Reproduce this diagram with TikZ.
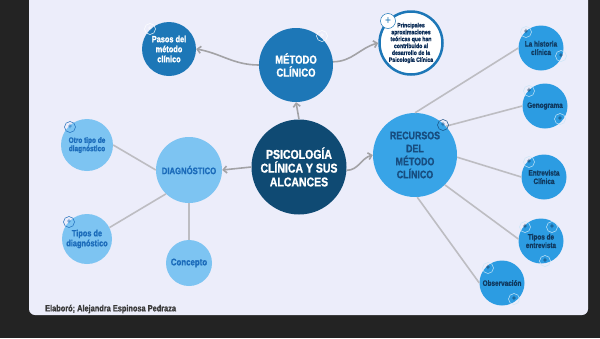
\documentclass[tikz,border=0pt]{standalone}
\usepackage{fontspec}
\setmainfont[FakeStretch=0.85]{Liberation Sans}
\newfontfamily\mapfont[FakeStretch=0.82, FakeBold=1.2]{Liberation Sans Bold}
\usetikzlibrary{arrows.meta}

\definecolor{darkbg}{HTML}{232323}
\definecolor{canvas}{HTML}{ECEDFA}
\definecolor{navy}{HTML}{0F4A73}
\definecolor{metblue}{HTML}{1D77B7}
\definecolor{inkdark}{HTML}{0C2D57}
\definecolor{recblue}{HTML}{38A4E7}
\definecolor{recink}{HTML}{174D80}
\definecolor{diagblue}{HTML}{7DC4F2}
\definecolor{diagink}{HTML}{1B6BBA}
\definecolor{leafblue}{HTML}{2C9CE2}
\definecolor{leafink}{HTML}{103A60}
\definecolor{arrowgray}{HTML}{A3A3A6}
\definecolor{linkgray}{HTML}{BDBDC2}
\definecolor{footink}{HTML}{3A3A3A}

\begin{document}
\begin{tikzpicture}[
    x=1pt, y=-1pt,
    every node/.style={align=center, inner sep=0pt},
    topic/.style={circle, fill=navy, text=white, minimum size=95pt, font=\mapfont\fontsize{12.8}{13.8}\selectfont},
    method/.style={circle, fill=metblue, text=white, font=\mapfont\fontsize{11.6}{13}\selectfont},
    ring/.style={circle, fill=white, draw=metblue, line width=2.5pt, text=inkdark, minimum size=63pt, font=\mapfont\fontsize{6.3}{6.9}\selectfont},
    resource/.style={circle, fill=recblue, text=recink, minimum size=84pt, font=\mapfont\fontsize{10.8}{13}\selectfont},
    diag/.style={circle, fill=diagblue, text=diagink},
    leaf/.style={circle, fill=leafblue, text=leafink, minimum size=45pt, font=\mapfont\fontsize{7.8}{8.4}\selectfont},
    arrow/.style={-{Straight Barb[length=3.5pt, width=7pt]}, line width=1.6pt, draw=arrowgray},
    link/.style={line width=1.6pt, draw=linkgray},
    plusmark/.style={circle, draw=#1, text=#1, line width=0.5pt, minimum size=11pt, font=\fontsize{9}{9}\selectfont}
]

% backdrop
\useasboundingbox (0,0) rectangle (600,338);
\fill[darkbg] (0,0) rectangle (600,338);
\fill[canvas, rounded corners=6pt] (29,-6) rectangle (588,315);

% centre and first level
\node[topic] (main) at (299,167) {PSICOLOGÍA\\CLÍNICA Y SUS\\ALCANCES};
\node[method, minimum size=74pt] (met) at (296,65) {MÉTODO\\CLÍNICO};
\node[method, minimum size=54pt, font=\mapfont\fontsize{9}{10}\selectfont] (pasos) at (169,49) {Pasos del\\método\\clínico};
\node[ring] (aprox) at (411,43) {Principales\\aproximaciones\\teóricas que han\\contribuido al\\desarrollo de la\\Psicología Clínica};
\node[resource] (rec) at (415,155) {RECURSOS\\DEL\\MÉTODO\\CLÍNICO};
\node[diag, minimum size=66pt, font=\mapfont\fontsize{9.4}{10}\selectfont] (dx) at (189,170) {DIAGNÓSTICO};

% diagnostico branch
\node[diag, minimum size=52pt, font=\mapfont\fontsize{7.9}{8.3}\selectfont] (otro) at (87,145) {Otro tipo de\\diagnóstico};
\node[diag, minimum size=50pt, font=\mapfont\fontsize{9}{10}\selectfont] (tdx) at (87,239) {Tipos de\\diagnóstico};
\node[diag, minimum size=46pt, font=\mapfont\fontsize{9.6}{10}\selectfont] (conc) at (189,263) {Concepto};

% recursos branch
\node[leaf] (hist) at (541,48) {La historia\\clínica};
\node[leaf] (geno) at (545,106) {Genograma};
\node[leaf] (entr) at (544,177) {Entrevista\\Clínica};
\node[leaf] (tent) at (541,241) {Tipos de\\entrevista};
\node[leaf] (obs) at (502,283) {Observación};

\node[anchor=west, text=footink, font=\mapfont\fontsize{9}{9}\selectfont] (credit) at (45,309) {Elaboró; Alejandra Espinosa Pedraza};

% arrows
\draw[arrow] (main.north) -- (met.south);
\draw[arrow] (main.west) -- (dx.east);
\draw[arrow] (main.-4) to[out=0, in=195] (rec.west);
\draw[arrow] (met.west) to[out=180, in=-10] (pasos.east);
\draw[arrow] (met.5) to[out=0, in=195] (aprox.west);

% plain links
\foreach \src/\dst in {dx.west/otro.east, dx.226/tdx.27, dx.south/conc.north,
    rec.north/hist.west, rec.43/geno.west, rec.-3/entr.west, rec.-45/tent.175, rec.-87/obs.west} {
    \draw[link] (\src) -- (\dst);
}

% plus icons
\foreach \px/\py [count=\i] in {150/29, 322/36} {
    \node[plusmark=white] (pw\i) at (\px,\py) {+};
}
\node[plusmark=metblue, fill=white, minimum size=15pt, font=\fontsize{12}{12}\selectfont] (pa) at (388,21) {+};
\node[plusmark=recink] (pr) at (443,125) {+};
\foreach \px/\py [count=\i] in {70/127, 69/222} {
    \node[plusmark=diagink] (pd\i) at (\px,\py) {+};
}
\foreach \px/\py [count=\i] in {526/32, 561/56, 529/91, 560/119, 529/162, 525/227, 552/227, 545/261, 488/268, 514/299} {
    \node[plusmark=leafink, draw=white!75!leafblue] (pl\i) at (\px,\py) {+};
}

\end{tikzpicture}
\end{document}
